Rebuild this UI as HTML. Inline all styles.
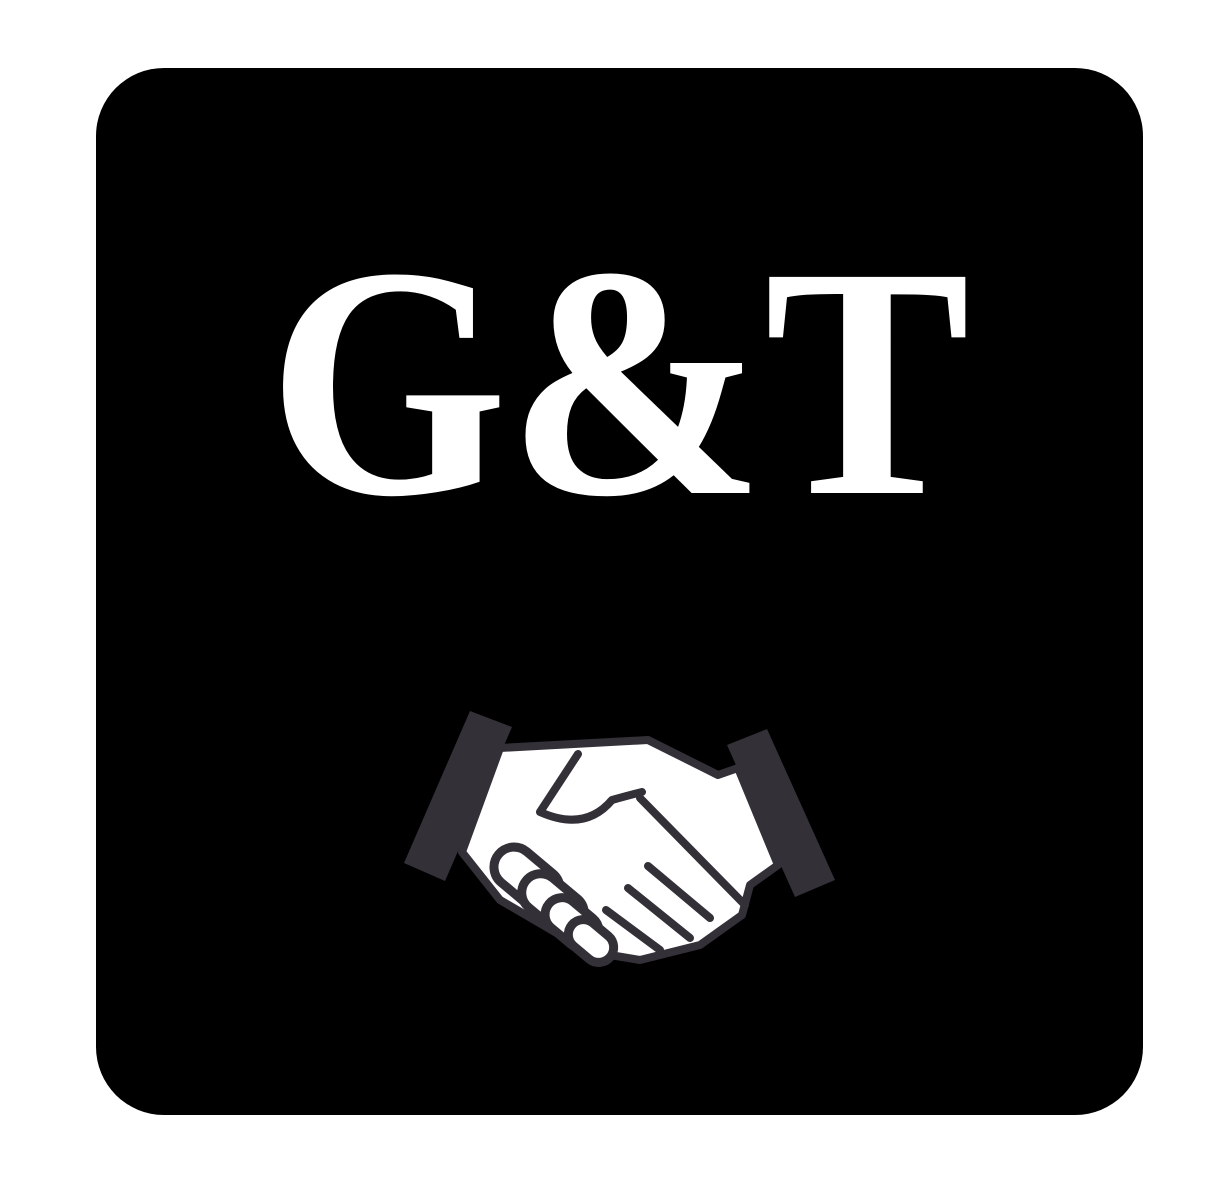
<!DOCTYPE html>
<html><head><meta charset="utf-8"><style>
html,body{margin:0;padding:0;background:#fff;width:1212px;height:1186px;overflow:hidden}
</style></head><body>
<svg width="1212" height="1186" viewBox="0 0 1212 1186">
<rect x="96" y="68" width="1047" height="1047" rx="68" fill="#000"/>
<text x="619" y="493" text-anchor="middle" textLength="702" lengthAdjust="spacingAndGlyphs" font-family="'Liberation Serif',serif" font-weight="bold" font-size="330" fill="#fff">G&amp;T</text>
<g stroke="#333038" stroke-width="8" stroke-linejoin="round" stroke-linecap="round">
<polygon points="500,748 648,740 718,775 738,768 778,865 750,885 742,915 700,945 640,960 610,955 560,935 500,900 462,852" fill="#fff"/>
<path d="M578,754 L540,812 Q585,832 612,800 Q630,795 642,792" fill="none"/>
<path d="M640,798 L745,905" fill="none"/>
<path d="M648,866 L710,918 M628,888 L690,938 M606,910 L660,950" fill="none"/>
<g fill="#fff" stroke-width="9">
<rect x="490" y="858" width="74" height="40" rx="20" transform="rotate(40 527 878)"/>
<rect x="518" y="884" width="70" height="38" rx="19" transform="rotate(40 553 903)"/>
<rect x="542" y="906" width="60" height="34" rx="17" transform="rotate(40 572 923)"/>
<rect x="566" y="926" width="50" height="30" rx="15" transform="rotate(40 591 941)"/>
</g>
<polygon points="470,711 512,727 445,881 404,863" fill="#333038" stroke="none"/>
<polygon points="727,745 767,729 835,880 795,897" fill="#333038" stroke="none"/>
</g>
</svg>
</body></html>
